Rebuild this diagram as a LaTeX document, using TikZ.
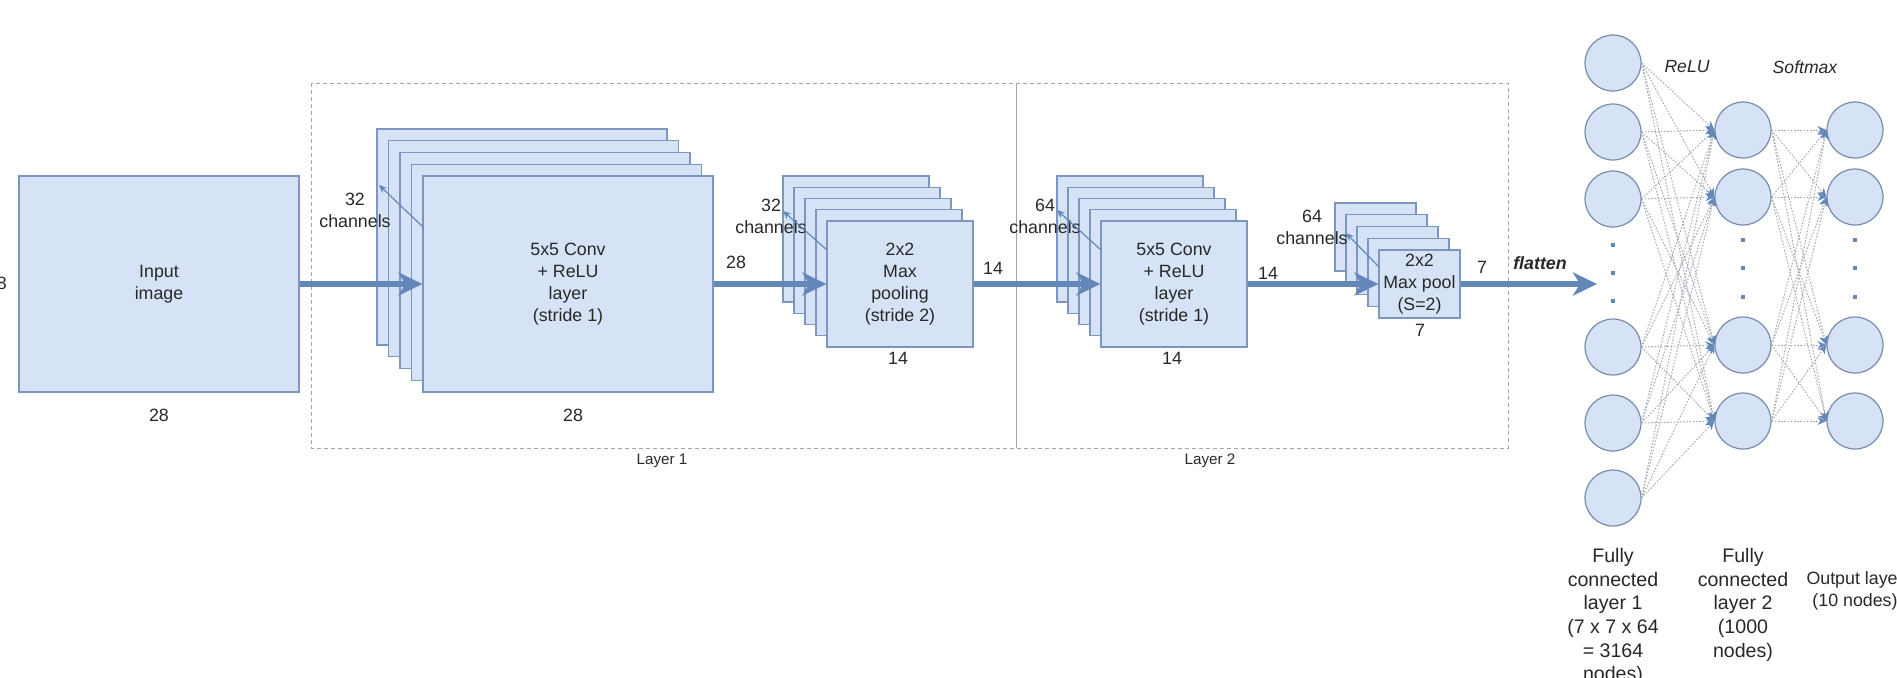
\documentclass[tikz,border=0pt]{standalone}
\usepackage{fontspec}
\setmainfont{Liberation Sans}
\usetikzlibrary{arrows.meta,calc}
\definecolor{boxfill}{RGB}{214,227,246}
\definecolor{boxdraw}{RGB}{125,150,190}
\definecolor{arrowblue}{RGB}{100,135,185}
\definecolor{dashgray}{RGB}{165,165,165}
\definecolor{txt}{RGB}{40,40,40}
\definecolor{netline}{RGB}{165,170,180}
\definecolor{circdraw}{RGB}{120,140,170}
\tikzset{
  box/.style={draw=boxdraw, fill=boxfill, line width=0.6pt},
  lbl/.style={text=txt, font=\fontsize{8.9}{11}\selectfont, align=center, inner sep=0pt},
  biglbl/.style={text=txt, font=\fontsize{9.8}{11.8}\selectfont, align=center, inner sep=0pt},
  mainarrow/.style={draw=arrowblue, line width=2.8pt, -{Stealth[length=12pt,width=11.5pt,inset=3.5pt]}},
  chan/.style={draw=arrowblue, line width=0.6pt, -{Stealth[length=4pt,width=3.5pt]}},
  neuron/.style={circle, draw=circdraw, fill=boxfill, line width=0.6pt, minimum size=28pt, inner sep=0pt},
  conn/.style={draw=netline, line width=0.5pt, dash pattern=on 0.8pt off 0.8pt, -{Stealth[length=4.5pt,width=4pt,color=arrowblue]}},
  netdot/.style={rectangle, fill=arrowblue, minimum size=2pt, inner sep=0pt},
  layerbox/.style={draw=dashgray, line width=0.5pt, dash pattern=on 2pt off 1.5pt}
}
\newcommand\backstack[6]{%
  \foreach \k in {4,3,2,1}{\draw[box] ({#1-#5*\k},{#2-#6*\k}) rectangle ++(#3,#4);}}
\begin{document}
\begin{tikzpicture}[x=0.5pt,y=-0.5pt]
\useasboundingbox (0,0) rectangle (1897,677);
\clip (0,0) rectangle (1897,677);

% layer frames
\draw[layerbox] (311,83) rectangle (1508,448);
\draw[draw=dashgray, line width=0.5pt] (1016,83) -- (1016,448);
\node[lbl, font=\fontsize{7.6}{9}\selectfont] (layer1) at (662,461) {Layer 1};
\node[lbl, font=\fontsize{7.6}{9}\selectfont] (layer2) at (1210,461) {Layer 2};

% input
\node[box, lbl, minimum width=140pt, minimum height=108pt] (in) at (159,284) {Input\\image};
\node[lbl] (inh) at (-3,283) {28};
\node[lbl] (inw) at (159,415) {28};

% conv 1
\backstack{423}{176}{290}{216}{11.5}{11.75}
\node[box, lbl, minimum width=145pt, minimum height=108pt] (c1) at (568,284) {5x5 Conv\\+ ReLU\\layer\\(stride 1)};
\node[lbl] (c1w) at (573,415) {28};
\node[lbl] (c1ch) at (355,210) {32\\channels};
\coordinate (c1a) at (423,227);
\coordinate (c1b) at (379,185);
\draw[chan] (c1a) -- (c1b);

% pool 1
\backstack{827}{221}{146}{126}{11}{11.25}
\node[box, lbl, minimum width=73pt, minimum height=63pt] (p1) at (900,284) {2x2\\Max\\pooling\\(stride 2)};
\node[lbl] (p1w) at (898,358) {14};
\node[lbl] (p1ch) at (771,216) {32\\channels};
\coordinate (p1a) at (827,250);
\coordinate (p1b) at (783,211);
\draw[chan] (p1a) -- (p1b);

% conv 2
\backstack{1101}{221}{146}{126}{11}{11.25}
\node[box, lbl, minimum width=73pt, minimum height=63pt] (c2) at (1174,284) {5x5 Conv\\+ ReLU\\layer\\(stride 1)};
\node[lbl] (c2w) at (1172,358) {14};
\node[lbl] (c2ch) at (1045,216) {64\\channels};
\coordinate (c2a) at (1101,250);
\coordinate (c2b) at (1057,210);
\draw[chan] (c2a) -- (c2b);

% pool 2
\backstack{1379}{250}{81}{68}{11}{11.75}
\node[box, lbl, minimum width=40.5pt, minimum height=34pt] (p2) at (1419.5,284) {2x2\\Max pool\\(S=2)};
\node[lbl] (p2w) at (1420,330) {7};
\node[lbl] (p2ch) at (1312,227) {64\\channels};
\coordinate (p2a) at (1379,267);
\coordinate (p2b) at (1346,233);
\draw[chan] (p2a) -- (p2b);

% main arrows
\coordinate (fl) at (1597,284);
\draw[mainarrow] (in.east) -- (c1.west);
\draw[mainarrow] (c1.east) -- (p1.west);
\draw[mainarrow] (p1.east) -- (c2.west);
\draw[mainarrow] (c2.east) -- (p2.west);
\draw[mainarrow] (p2.east) -- (fl);
\node[lbl] (s28) at (736,262) {28};
\node[lbl] (s14a) at (993,268) {14};
\node[lbl] (s14b) at (1268,273) {14};
\node[lbl] (s7) at (1482,267) {7};
\node[lbl, font=\fontsize{8.9}{11}\selectfont\bfseries\itshape] (flat) at (1540,263) {flatten};

% fully connected network
\foreach \n/\y in {1/63,2/132,3/199,4/347,5/423,6/498}
  \node[neuron] (a\n) at (1613,\y) {};
\foreach \n/\y in {1/130,2/197,3/345,4/421}{
  \node[neuron] (b\n) at (1743,\y) {};
  \node[neuron] (c\n) at (1855,\y) {};
}
\foreach \n/\y in {1/245,2/273,3/301}
  \node[netdot] (da\n) at (1613,\y) {};
\foreach \n/\y in {1/240,2/268,3/297}{
  \node[netdot] (db\n) at (1743,\y) {};
  \node[netdot] (dc\n) at (1855,\y) {};
}
\foreach \i in {1,...,6}
  \foreach \j in {1,...,4}
    \draw[conn] (a\i.east) -- (b\j.west);
\foreach \i in {1,...,4}
  \foreach \j in {1,...,4}
    \draw[conn] (b\i.east) -- (c\j.west);

\node[lbl, font=\fontsize{8.8}{11}\selectfont\itshape] (relu) at (1687,67) {ReLU};
\node[lbl, font=\fontsize{8.8}{11}\selectfont\itshape] (soft) at (1805,67) {Softmax};

\node[biglbl, anchor=north] (fc1) at (1613,548) {Fully\\connected\\layer 1\\(7 x 7 x 64\\= 3164\\nodes)};
\node[biglbl, anchor=north] (fc2) at (1743,548) {Fully\\connected\\layer 2\\(1000\\nodes)};
\node[lbl, anchor=north] (outl) at (1855,571) {Output layer\\(10 nodes)};
\end{tikzpicture}
\end{document}
